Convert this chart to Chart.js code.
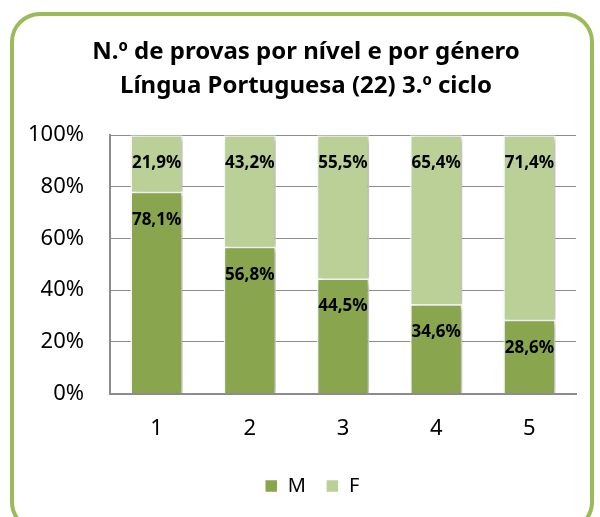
<!DOCTYPE html>
<html>
<head>
<meta charset="utf-8">
<script src="https://cdn.jsdelivr.net/npm/chart.js@4"></script>
<style>
    body { margin: 0; background: #fff; }
    .moldura {
        position: absolute; left: 10px; top: 12px; width: 584px; height: 520px;
        border: 4px solid #9bbb59; border-radius: 30px; box-sizing: border-box;
    }
    #grafico-provas { position: absolute; left: 0; top: 0; }
</style>
</head>
<body>
<div class="moldura"></div>
<canvas id="grafico-provas" width="600" height="517"></canvas>
<script>
const categorias = ['1', '2', '3', '4', '5'];
const valoresM = [78.1, 56.8, 44.5, 34.6, 28.6];
const valoresF = [21.9, 43.2, 55.5, 65.4, 71.4];
const ticksY = [0, 20, 40, 60, 80, 100];
const titulo = ['N.º de provas por nível e por género', 'Língua Portuguesa (22) 3.º ciclo'];

const FONTE = "'Noto Sans', sans-serif";

// rotulos dentro das barras, perto do topo de cada segmento
const rotulosBarras = {
    id: 'rotulosBarras',
    afterDatasetsDraw(chart) {
        const ctx = chart.ctx;
        ctx.save();
        ctx.font = `bold 17px ${FONTE}`;
        ctx.fillStyle = '#000';
        ctx.textAlign = 'center';
        ctx.textBaseline = 'middle';
        chart.data.datasets.forEach((ds, i) => {
            const meta = chart.getDatasetMeta(i);
            meta.data.forEach((barra, j) => {
                const valor = ds.data[j].toFixed(1).replace('.', ',') + '%';
                ctx.fillText(valor, barra.x, barra.y + 28);
            });
        });
        ctx.restore();
    }
};

// sombra leve nas barras
const sombraBarras = {
    id: 'sombraBarras',
    beforeDatasetsDraw(chart) {
        const ctx = chart.ctx;
        ctx.save();
        ctx.shadowColor = 'rgba(0,0,0,0.3)';
        ctx.shadowBlur = 6;
        ctx.shadowOffsetX = 3;
        ctx.shadowOffsetY = 2;
    },
    afterDatasetsDraw(chart) {
        chart.ctx.restore();
    }
};

// no original o titulo e a legenda ficam um pouco a direita do centro
const deslocaBlocos = {
    id: 'deslocaBlocos',
    afterLayout(chart) {
        chart.legend.left += 14;
        chart.legend.right += 14;
        chart.titleBlock.left += 8;
        chart.titleBlock.right += 8;
    }
};

new Chart(document.getElementById('grafico-provas').getContext('2d'), {
    type: 'bar',
    data: {
        labels: categorias,
        datasets: [{
            label: 'M',
            data: valoresM,
            backgroundColor: '#89a54e',
            borderColor: '#ffffff',
            borderWidth: 1.5
        }, {
            label: 'F',
            data: valoresF,
            backgroundColor: '#bad097',
            borderColor: '#ffffff',
            borderWidth: 1.5
        }]
    },
    plugins: [sombraBarras, rotulosBarras, deslocaBlocos],
    options: {
        responsive: false,
        animation: false,
        devicePixelRatio: 1,
        layout: { padding: { left: 20, right: 24, top: 22, bottom: 11 } },
        datasets: { bar: { categoryPercentage: 1, barPercentage: 0.56 } },
        plugins: {
            title: {
                display: true,
                text: titulo,
                color: '#000',
                font: { family: FONTE, size: 24, weight: 'bold', lineHeight: 1.42 },
                padding: { top: 13, bottom: 32 }
            },
            legend: {
                position: 'bottom',
                labels: {
                    color: '#000',
                    boxWidth: 13,
                    boxHeight: 13,
                    padding: 20,
                    font: { family: FONTE, size: 20 }
                }
            },
            tooltip: { enabled: false }
        },
        scales: {
            x: {
                stacked: true,
                grid: { display: false },
                border: { color: '#8c8c8c', width: 2 },
                ticks: { color: '#000', font: { family: FONTE, size: 22 }, padding: 14 }
            },
            y: {
                stacked: true,
                min: 0,
                max: 100,
                afterBuildTicks(eixo) {
                    eixo.ticks = ticksY.map(v => ({ value: v }));
                },
                afterFit(eixo) { eixo.width = 90; },
                grid: { color: '#8c8c8c', drawTicks: false },
                border: { color: '#8c8c8c', width: 2 },
                ticks: {
                    color: '#000',
                    padding: 26,
                    font: { family: FONTE, size: 22 },
                    callback: v => v + '%'
                }
            }
        }
    }
});
</script>
</body>
</html>
